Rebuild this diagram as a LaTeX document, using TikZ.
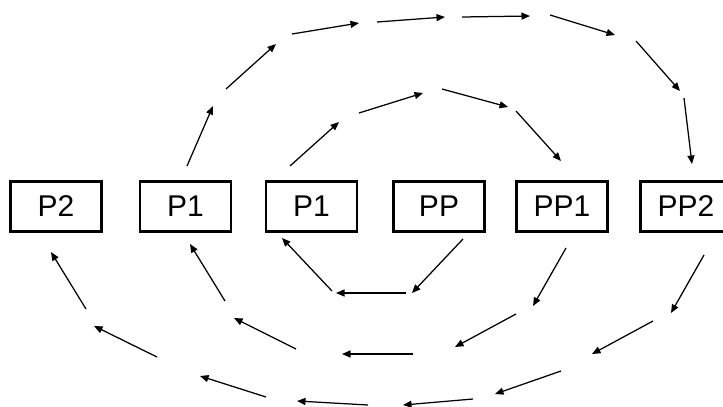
\documentclass[tikz,border=0pt]{standalone}
\usepackage{fontspec}
\setmainfont{Liberation Sans}
\usetikzlibrary{arrows.meta}
\begin{document}
\begin{tikzpicture}[x=1pt,y=-1pt,
  procbox/.style={draw,line width=2.8pt,minimum width=91pt,minimum height=50pt,inner sep=0pt,font=\fontsize{30}{34}\selectfont},
  flow/.style={line width=1.25pt,-{Triangle[length=8.5pt,width=7pt]}}]
\useasboundingbox (0,0) rectangle (723,407);
\fill[white] (0,0) rectangle (723,407);
% boxes
\node[procbox] (b1) at (56,206.5) {P2};
\node[procbox] (b2) at (185.5,206.5) {P1};
\node[procbox] (b3) at (311.5,206.5) {P1};
\node[procbox] (b4) at (439,206.5) {PP};
\node[procbox] (b5) at (562,206.5) {PP1};
\node[procbox] (b6) at (686,206.5) {PP2};
% outer top arc
\coordinate (o1s) at (187,166); \coordinate (o1e) at (213,106);
\coordinate (o2s) at (226,89);  \coordinate (o2e) at (276,44);
\coordinate (o3s) at (292,34);  \coordinate (o3e) at (359,23);
\coordinate (o4s) at (377,22);  \coordinate (o4e) at (445,17);
\coordinate (o5s) at (462,17);  \coordinate (o5e) at (530,16);
\coordinate (o6s) at (550,15);  \coordinate (o6e) at (615,35);
\coordinate (o7s) at (636,41);  \coordinate (o7e) at (680,91);
\coordinate (o8s) at (684,98);  \coordinate (o8e) at (692,164);
\foreach \i in {1,...,8} \draw[flow] (o\i s) -- (o\i e);
% inner top arc
\coordinate (i1s) at (290,166); \coordinate (i1e) at (339,122);
\coordinate (i2s) at (359,113); \coordinate (i2e) at (423,93);
\coordinate (i3s) at (442,89);  \coordinate (i3e) at (508,107);
\coordinate (i4s) at (516,111); \coordinate (i4e) at (561,161);
\foreach \i in {1,...,4} \draw[flow] (i\i s) -- (i\i e);
% innermost bottom arc
\coordinate (a1s) at (463,239); \coordinate (a1e) at (412,293);
\coordinate (a2s) at (406,293); \coordinate (a2e) at (336,293);
\coordinate (a3s) at (332,291); \coordinate (a3e) at (282,238);
\foreach \i in {1,...,3} \draw[flow] (a\i s) -- (a\i e);
% middle bottom arc
\coordinate (m1s) at (566,248); \coordinate (m1e) at (533,306);
\coordinate (m2s) at (516,314); \coordinate (m2e) at (455,347);
\coordinate (m3s) at (413,354); \coordinate (m3e) at (342,354);
\coordinate (m4s) at (296,349); \coordinate (m4e) at (234,318);
\coordinate (m5s) at (225,301); \coordinate (m5e) at (190,244);
\foreach \i in {1,...,5} \draw[flow] (m\i s) -- (m\i e);
% outer bottom arc
\coordinate (u1s) at (704,255); \coordinate (u1e) at (671,313);
\coordinate (u2s) at (653,321); \coordinate (u2e) at (592,354);
\coordinate (u3s) at (561,371); \coordinate (u3e) at (495,394);
\coordinate (u4s) at (473,399); \coordinate (u4e) at (403,405);
\coordinate (u5s) at (368,405); \coordinate (u5e) at (297,401);
\coordinate (u6s) at (266,397); \coordinate (u6e) at (200,376);
\coordinate (u7s) at (157,357); \coordinate (u7e) at (94,326);
\coordinate (u8s) at (86,309);  \coordinate (u8e) at (51,252);
\foreach \i in {1,...,8} \draw[flow] (u\i s) -- (u\i e);
\end{tikzpicture}
\end{document}
